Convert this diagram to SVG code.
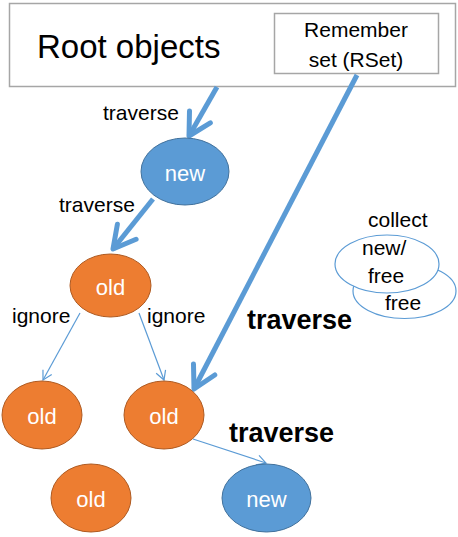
<svg xmlns="http://www.w3.org/2000/svg" width="458" height="537" viewBox="0 0 458 537">
<style>
text{font-family:"Liberation Sans",Arial,sans-serif;fill:#000}
.box{fill:#fff;stroke:#a6a6a6;stroke-width:1.5}
.o{fill:#ED7D31;stroke:#AE5A21;stroke-width:1}
.n{fill:#5B9BD5;stroke:#41719C;stroke-width:1}
.lbl{font-size:22px;fill:#fff;text-anchor:middle}
.t{font-size:20px}
.b{font-size:27px;font-weight:bold}
.thick{stroke:#5B9BD5;stroke-width:5;fill:none}
.thin{stroke:#5B9BD5;stroke-width:1.2;fill:none}
.c{fill:#fff;stroke:#5B9BD5;stroke-width:1.2}
</style>
<defs>
<marker id="big" markerUnits="userSpaceOnUse" orient="auto" refX="0" refY="0" markerWidth="40" markerHeight="40" viewBox="-30 -20 40 40" overflow="visible">
<path d="M-22 -12 L0 0 L-22 12" fill="none" stroke="#5B9BD5" stroke-width="5" stroke-linecap="round" stroke-linejoin="round"/>
</marker>
<marker id="small" markerUnits="userSpaceOnUse" orient="auto" refX="0" refY="0" markerWidth="20" markerHeight="20" viewBox="-15 -10 20 20" overflow="visible">
<path d="M-9 -5 L0 0 L-9 5" fill="none" stroke="#5B9BD5" stroke-width="1.2"/>
</marker>
</defs>
<g id="root">
<rect class="box" x="9.5" y="3.5" width="446" height="83"/>
<text x="37" y="58" style="font-size:33px">Root objects</text>
</g>
<g id="rset">
<rect class="box" x="274.5" y="13.5" width="164" height="60"/>
<text x="356" y="37" class="t" text-anchor="middle" style="font-size:21px">Remember</text>
<text x="356" y="67" class="t" text-anchor="middle" style="font-size:21px">set (RSet)</text>
</g>
<g id="connectors">
<line class="thick" x1="217" y1="87" x2="189" y2="136" marker-end="url(#big)"/>
<line class="thick" x1="153" y1="199" x2="113" y2="249" marker-end="url(#big)"/>
<line class="thick" x1="357" y1="75" x2="194" y2="389" marker-end="url(#big)"/>
<line class="thin" x1="80" y1="313" x2="43" y2="380" marker-end="url(#small)"/>
<line class="thin" x1="139" y1="313" x2="164" y2="380" marker-end="url(#small)"/>
<line class="thin" x1="193" y1="439" x2="266" y2="463" marker-end="url(#small)"/>
</g>
<g id="labels">
<text x="103" y="120" class="t" style="font-size:21px">traverse</text>
<text x="59" y="212" class="t" style="font-size:21px">traverse</text>
<text x="12" y="323" class="t" style="font-size:21px">ignore</text>
<text x="147" y="323" class="t" style="font-size:21px">ignore</text>
<text x="247" y="329" class="b">traverse</text>
<text x="229" y="442" class="b">traverse</text>
</g>
<g id="new1">
<ellipse class="n" cx="185" cy="171.5" rx="44" ry="33.5"/>
<text class="lbl" x="185" y="181">new</text>
</g>
<g id="old1">
<ellipse class="o" cx="110.5" cy="285.5" rx="40.5" ry="31.5"/>
<text class="lbl" x="110.5" y="295">old</text>
</g>
<g id="old2">
<ellipse class="o" cx="42" cy="415" rx="40" ry="34"/>
<text class="lbl" x="42" y="424">old</text>
</g>
<g id="old3">
<ellipse class="o" cx="164" cy="415" rx="40" ry="34"/>
<text class="lbl" x="164" y="424">old</text>
</g>
<g id="old4">
<ellipse class="o" cx="91" cy="498" rx="40" ry="34"/>
<text class="lbl" x="91" y="507">old</text>
</g>
<g id="new2">
<ellipse class="n" cx="266.5" cy="498" rx="44.5" ry="34"/>
<text class="lbl" x="266.5" y="507">new</text>
</g>
<g id="collect">
<text x="368" y="227" style="font-size:21px">collect</text>
<ellipse class="c" cx="404.5" cy="291" rx="51.5" ry="27.5"/>
<text x="385" y="310" style="font-size:21px">free</text>
<ellipse class="c" cx="387" cy="264" rx="52" ry="29"/>
<text x="362" y="255" style="font-size:21px">new/</text>
<text x="368" y="283" style="font-size:21px">free</text>
</g>
</svg>
